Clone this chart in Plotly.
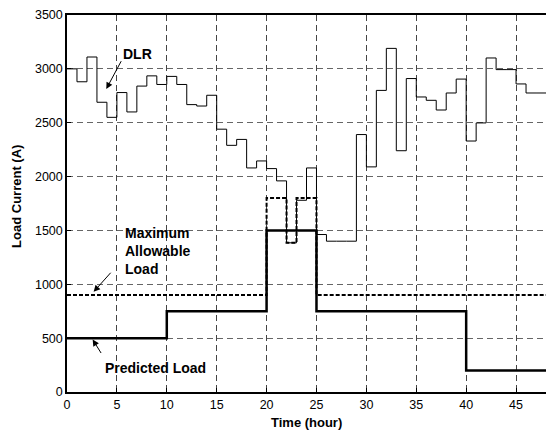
import plotly.graph_objects as go

# Hourly dynamic line rating (A), value held over each hour
dlr_hours = list(range(49))
dlr_values = [3000, 2880, 3110, 2690, 2550, 2780, 2600, 2840, 2935, 2855,
              2930, 2855, 2668, 2655, 2755, 2440, 2290, 2345, 2080, 2145,
              2074, 1960, 1385, 1780, 2080, 1462, 1400, 1400, 1400, 2390,
              2090, 2800, 3190, 2240, 2910, 2739, 2708, 2618, 2776, 2905,
              2330, 2498, 3101, 2993, 2993, 2860, 2776, 2776, 2776]

max_hours = [0, 20, 22, 23, 25, 48]
max_values = [900, 1800, 1385, 1800, 900, 900]

pred_hours = [0, 10, 20, 25, 40, 48]
pred_values = [500, 750, 1500, 750, 200, 200]

x_ticks = [0, 5, 10, 15, 20, 25, 30, 35, 40, 45]
y_ticks = [0, 500, 1000, 1500, 2000, 2500, 3000, 3500]

FONT = "Arial, Liberation Sans, sans-serif"

fig = go.Figure()
fig.add_trace(go.Scatter(x=dlr_hours, y=dlr_values, mode="lines",
                         line=dict(color="black", width=1, shape="hv"),
                         showlegend=False))
fig.add_trace(go.Scatter(x=max_hours, y=max_values, mode="lines",
                         line=dict(color="black", width=2, shape="hv", dash="4px,2px"),
                         showlegend=False))
fig.add_trace(go.Scatter(x=pred_hours, y=pred_values, mode="lines",
                         line=dict(color="black", width=2.5, shape="hv"),
                         showlegend=False))

afont = dict(family=FONT, size=14, color="black")
tfont = dict(family=FONT, size=13, color="black")
annotations = [
    dict(x=3.94, y=2814, ax=5.51, ay=3085, axref="x", ayref="y", xref="x", yref="y",
         text="", showarrow=True, arrowhead=2, arrowsize=1.3, arrowwidth=1, arrowcolor="black"),
    dict(x=7.05, y=3141, xref="x", yref="y", text="<b>DLR</b>", showarrow=False, font=afont),
    dict(x=2.67, y=930, ax=4.51, ay=1121, axref="x", ayref="y", xref="x", yref="y",
         text="", showarrow=True, arrowhead=2, arrowsize=1.3, arrowwidth=1, arrowcolor="black"),
    dict(x=5.6, y=1313, xref="x", yref="y", xanchor="left", align="left",
         text="<b>Maximum<br>Allowable<br>Load</b>", showarrow=False, font=afont),
    dict(x=2.57, y=487, ax=3.51, ay=348, axref="x", ayref="y", xref="x", yref="y",
         text="", showarrow=True, arrowhead=2, arrowsize=1.3, arrowwidth=1, arrowcolor="black"),
    dict(x=8.9, y=227, xref="x", yref="y", text="<b>Predicted Load</b>", showarrow=False, font=afont),
    # axis titles
    dict(x=0.5, y=-0.081, xref="paper", yref="paper", text="<b>Time (hour)</b>",
         showarrow=False, font=tfont, xanchor="center", yanchor="middle"),
    dict(x=-0.104, y=0.518, xref="paper", yref="paper", text="<b>Load Current (A)</b>",
         showarrow=False, font=tfont, textangle=-90, xanchor="center", yanchor="middle"),
]

fig.update_layout(
    width=546, height=432,
    margin=dict(l=67, r=0, t=15, b=40),
    paper_bgcolor="white", plot_bgcolor="white",
    font=dict(family=FONT, size=12, color="black"),
    annotations=annotations,
    xaxis=dict(range=[0, 48], tickvals=x_ticks, showgrid=True, gridcolor="#444",
               griddash="6px,4px", gridwidth=1, showline=True, linecolor="black",
               linewidth=1.5, mirror=True, ticks="inside", ticklen=4, tickcolor="black",
               zeroline=False, tickfont=dict(size=12.5), automargin=False),
    yaxis=dict(range=[0, 3500], tickvals=y_ticks, showgrid=True, gridcolor="#666",
               griddash="6px,4px", gridwidth=1, showline=True, linecolor="black",
               linewidth=1.5, mirror=True, ticks="inside", ticklen=4, tickcolor="black",
               zeroline=False, tickfont=dict(size=12.5), automargin=False),
)

fig.write_html("out.html", config={"displayModeBar": False},
               post_script="document.body.style.margin='0';document.body.style.overflow='hidden';")
